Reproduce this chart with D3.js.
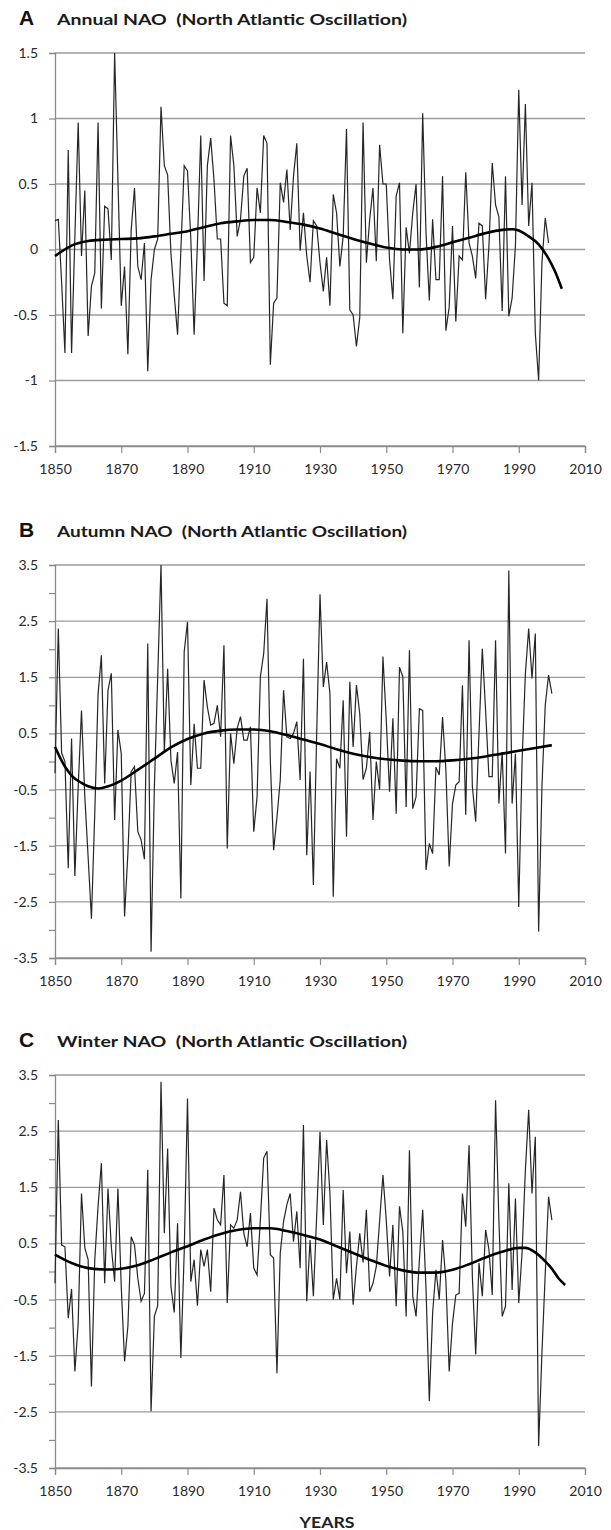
<!DOCTYPE html>
<html>
<head>
<meta charset="utf-8">
<script src="https://cdn.jsdelivr.net/npm/d3@7/dist/d3.min.js"></script>
<style>
  body { margin: 0; background: #fff; }
  svg { display: block; }
  text { font-family: Lato, "Liberation Sans", sans-serif; }
</style>
</head>
<body>
<div id="chart"></div>
<script>
// yearly NAO index values, first year 1850
var firstYear = 1850;

var annualNAO = [
  0.22, 0.23, -0.25, -0.79, 0.76, -0.79, 0.10, 0.97, -0.05, 0.45,
  -0.66, -0.28, -0.18, 0.97, -0.45, 0.33, 0.31, -0.08, 1.50, 0.53,
  -0.43, -0.13, -0.80, 0.15, 0.47, -0.13, -0.23, 0.05, -0.93, -0.23,
  0.00, 0.08, 1.09, 0.64, 0.57, -0.03, -0.35, -0.65, 0.00, 0.64,
  0.60, 0.08, -0.65, 0.05, 0.87, -0.24, 0.64, 0.85, 0.53, 0.08,
  0.08, -0.41, -0.43, 0.87, 0.64, 0.10, 0.23, 0.56, 0.62, -0.10,
  -0.06, 0.47, 0.28, 0.87, 0.81, -0.88, -0.41, -0.37, 0.51, 0.36,
  0.61, 0.15, 0.56, 0.81, -0.01, 0.28, -0.05, -0.25, 0.22, 0.18,
  -0.10, -0.32, -0.06, -0.43, 0.42, 0.28, -0.13, 0.10, 0.92, -0.46,
  -0.50, -0.74, -0.52, 0.97, -0.10, 0.23, 0.47, -0.09, 0.80, 0.50,
  0.50, -0.08, -0.38, 0.41, 0.51, -0.64, 0.17, -0.03, 0.28, 0.50,
  -0.29, 1.04, 0.13, -0.39, 0.23, -0.23, -0.23, 0.56, -0.62, -0.44,
  0.18, -0.55, -0.05, -0.08, 0.59, 0.05, -0.05, -0.22, 0.20, 0.18,
  -0.38, 0.03, 0.66, 0.34, 0.25, -0.47, 0.56, -0.51, -0.37, 0.03,
  1.22, 0.34, 1.11, 0.18, 0.51, -0.64, -1.00, -0.10, 0.24, 0.05
];

var autumnNAO = [
  -0.21, 2.37, 0.15, 0.00, -1.90, 0.41, -2.04, -0.45, 0.91, -0.63,
  -1.70, -2.80, -0.93, 1.20, 1.89, -0.39, 1.27, 1.57, -1.04, 0.56,
  0.14, -2.76, -1.64, -0.18, -0.09, -1.25, -1.40, -1.74, 2.10, -3.39,
  -0.45, 1.50, 3.50, 0.17, 1.65, 0.02, -0.39, 0.17, -2.44, 1.95,
  2.49, -0.42, 0.67, -0.12, -0.12, 1.45, 0.97, 0.65, 0.68, 1.00,
  0.44, 2.07, -1.55, 0.50, -0.04, 0.59, 0.80, 0.38, 0.38, 0.62,
  -1.25, -0.63, 1.51, 1.92, 2.90, 0.02, -1.58, -1.00, -0.33, 1.27,
  0.44, 0.41, 0.50, 0.71, -0.33, 1.83, -1.67, -0.18, -2.20, 0.50,
  2.98, 1.33, 1.77, 1.21, -2.41, 0.05, -0.12, 1.09, -1.34, 1.42,
  0.26, 1.36, 0.85, -0.32, -0.12, 0.53, -1.04, 0.00, -0.50, 1.87,
  0.74, -0.54, 0.77, -0.93, 1.68, 1.51, -0.81, 1.98, -0.84, -0.63,
  0.94, 0.91, -1.93, -1.46, -1.64, -0.10, -0.24, 0.79, -0.15, -1.87,
  -0.75, -0.42, -0.36, 1.36, -0.95, 2.16, -0.45, -1.07, 0.50, 2.01,
  0.90, -0.27, -0.27, 2.16, -0.75, 0.17, -1.64, 3.40, -0.75, 0.14,
  -2.59, 0.00, 1.57, 2.37, 1.48, 2.28, -3.03, -0.45, 1.00, 1.54,
  1.21
];

var winterNAO = [
  -0.21, 2.70, 0.47, 0.44, -0.83, -0.31, -1.78, -0.92, 1.39, 0.42,
  0.21, -2.05, 0.20, 1.16, 1.93, -0.21, 1.48, 0.44, -0.18, 1.48,
  -0.27, -1.60, -0.98, 0.62, 0.47, -0.12, -0.53, -0.39, 1.81, -2.49,
  -0.80, -0.61, 3.38, 0.68, 2.19, -0.27, -0.73, 0.86, -1.54, 0.33,
  3.08, -0.18, 0.21, -0.61, 0.39, 0.09, 0.39, -0.36, 1.13, 0.92,
  0.83, 1.72, -0.56, 0.83, 0.77, 0.92, 1.42, 0.68, 0.44, 1.04,
  0.06, -0.06, 0.92, 2.02, 2.14, 0.30, 0.24, -1.81, 0.33, 0.89,
  1.19, 1.39, 0.53, 1.07, 0.06, 2.61, -0.53, 0.56, -0.44, 1.00,
  2.49, 0.83, 2.34, 1.39, -0.50, -0.12, -0.50, 1.45, -0.03, 0.71,
  -0.59, 0.09, 0.68, 0.16, 1.10, -0.36, -0.21, 0.09, 0.90, 1.72,
  0.92, -0.09, 0.83, -0.62, 1.16, 0.71, -0.80, 2.16, -0.44, -0.80,
  0.20, 1.10, -0.30, -2.31, -0.74, 0.03, -0.50, 0.56, -0.15, -1.78,
  -0.92, -0.42, -0.39, 1.39, 0.80, 2.25, -0.10, -1.48, 0.15, -0.44,
  0.74, 0.39, -0.42, 3.05, 0.92, -0.80, -0.62, 1.57, -0.33, 1.30,
  -0.56, 0.33, 1.81, 2.88, 1.39, 2.40, -3.11, -1.45, -0.03, 1.33,
  0.92
];

// smoothed trend curves (thick line)
var annualTrendYears = [1850, 1855, 1860, 1865, 1870, 1875, 1880, 1885, 1890, 1895, 1900, 1905, 1910, 1915, 1920, 1925, 1930, 1935, 1940, 1945, 1950, 1955, 1960, 1965, 1970, 1975, 1980, 1985, 1988, 1990, 1993, 1996, 1999, 2001, 2003];
var annualTrend = [-0.05, 0.03, 0.065, 0.075, 0.08, 0.085, 0.10, 0.12, 0.14, 0.17, 0.20, 0.215, 0.225, 0.225, 0.21, 0.19, 0.16, 0.12, 0.08, 0.045, 0.015, 0.0, 0.0, 0.02, 0.055, 0.09, 0.125, 0.15, 0.155, 0.145, 0.10, 0.04, -0.07, -0.17, -0.30];

var autumnTrendYears = [1850, 1853, 1855, 1858, 1860, 1863, 1865, 1870, 1875, 1880, 1885, 1890, 1895, 1900, 1905, 1910, 1915, 1920, 1925, 1930, 1935, 1940, 1945, 1950, 1955, 1960, 1965, 1970, 1975, 1980, 1985, 1990, 1995, 2000];
var autumnTrend = [0.26, -0.09, -0.25, -0.38, -0.44, -0.48, -0.46, -0.34, -0.15, 0.05, 0.25, 0.40, 0.50, 0.55, 0.57, 0.57, 0.54, 0.47, 0.39, 0.31, 0.22, 0.14, 0.08, 0.04, 0.015, 0.005, 0.005, 0.02, 0.05, 0.09, 0.14, 0.19, 0.24, 0.29];

var winterTrendYears = [1850, 1855, 1860, 1865, 1870, 1875, 1880, 1885, 1890, 1895, 1900, 1905, 1910, 1915, 1920, 1925, 1930, 1935, 1940, 1945, 1950, 1955, 1960, 1965, 1970, 1975, 1980, 1985, 1990, 1992, 1995, 1998, 2000, 2002, 2004];
var winterTrend = [0.30, 0.15, 0.06, 0.035, 0.05, 0.11, 0.22, 0.34, 0.45, 0.57, 0.67, 0.74, 0.77, 0.77, 0.72, 0.65, 0.57, 0.45, 0.33, 0.21, 0.10, 0.02, -0.02, -0.02, 0.03, 0.13, 0.25, 0.35, 0.42, 0.42, 0.34, 0.18, 0.05, -0.12, -0.24];

var xTicks = [1850, 1870, 1890, 1910, 1930, 1950, 1970, 1990, 2010];
var yTicksA = [-1.5, -1, -0.5, 0, 0.5, 1, 1.5];
var yTicksBC = [-3.5, -3, -2.5, -2, -1.5, -1, -0.5, 0, 0.5, 1, 1.5, 2, 2.5, 3, 3.5];
var yGridBC = [-3.5, -2.5, -1.5, -0.5, 0.5, 1.5, 2.5, 3.5];

var panelLetters = ['A', 'B', 'C'];
var panelTitles = [
  'Annual NAO  (North Atlantic Oscillation)',
  'Autumn NAO  (North Atlantic Oscillation)',
  'Winter NAO  (North Atlantic Oscillation)'
];

var W = 611, H = 1530;
var svg = d3.select('#chart').append('svg')
  .attr('width', W)
  .attr('height', H);

var x = d3.scaleLinear().domain([1850, 2010]).range([55, 585]);

var panels = [
  { top: 53, bottom: 446, dom: [-1.5, 1.5], values: annualNAO, ticks: yTicksA, grid: yTicksA,
    tYears: annualTrendYears, trend: annualTrend },
  { top: 565, bottom: 958, dom: [-3.5, 3.5], values: autumnNAO, ticks: yTicksBC, grid: yGridBC,
    tYears: autumnTrendYears, trend: autumnTrend },
  { top: 1075, bottom: 1468, dom: [-3.5, 3.5], values: winterNAO, ticks: yTicksBC, grid: yGridBC,
    tYears: winterTrendYears, trend: winterTrend }
];

panels.forEach(function(p, i) {
  var y = d3.scaleLinear().domain(p.dom).range([p.bottom, p.top]);
  var g = svg.append('g');

  // title
  g.append('text')
    .attr('x', 19).attr('y', p.top - 28)
    .style('font-family', '"Liberation Sans", Arial, sans-serif')
    .style('font-weight', 'bold')
    .style('font-size', '21px')
    .attr('fill', '#111')
    .text(panelLetters[i]);
  g.append('text')
    .attr('x', 57).attr('y', p.top - 28)
    .style('font-weight', 'bold')
    .style('font-size', '16px')
    .style('white-space', 'pre')
    .attr('textLength', 350)
    .attr('lengthAdjust', 'spacingAndGlyphs')
    .attr('fill', '#1a1a1a')
    .text(panelTitles[i]);

  // gridlines
  g.selectAll('.grid')
    .data(p.grid)
    .enter().append('line')
    .attr('x1', x(1850)).attr('x2', x(2010))
    .attr('y1', function(d) { return y(d); })
    .attr('y2', function(d) { return y(d); })
    .attr('stroke', '#9c9c9c')
    .attr('stroke-width', 1.3);

  // y axis
  var yAxis = d3.axisLeft(y)
    .tickValues(p.ticks)
    .tickSize(6)
    .tickPadding(11)
    .tickFormat(function(d) { return p.grid.indexOf(d) >= 0 ? d3.format('')(d).replace('−', '-') : ''; });
  var ya = g.append('g')
    .attr('transform', 'translate(' + x(1850) + ',0)')
    .call(yAxis);
  ya.select('.domain').attr('stroke', '#8a8a8a').attr('stroke-width', 1.3);
  ya.selectAll('.tick line').attr('stroke', '#8a8a8a').attr('stroke-width', 1.2);
  ya.selectAll('.tick text')
    .style('font-family', 'Lato, sans-serif')
    .style('font-size', '14px')
    .attr('fill', '#2a2a2a');

  // x axis
  var xAxis = d3.axisBottom(x)
    .tickValues(xTicks)
    .tickSize(7)
    .tickPadding(11)
    .tickFormat(d3.format('d'));
  var xa = g.append('g')
    .attr('transform', 'translate(0,' + p.bottom + ')')
    .call(xAxis);
  xa.select('.domain').attr('stroke', '#8a8a8a').attr('stroke-width', 1.3);
  xa.selectAll('.tick line').attr('stroke', '#8a8a8a').attr('stroke-width', 1.2);
  xa.selectAll('.tick text')
    .style('font-family', 'Lato, sans-serif')
    .style('font-size', '14px')
    .attr('fill', '#2a2a2a');

  // yearly series
  var line = d3.line()
    .x(function(d, k) { return x(firstYear + k); })
    .y(function(d) { return y(d); });
  g.append('path')
    .datum(p.values)
    .attr('d', line)
    .attr('fill', 'none')
    .attr('stroke', '#262626')
    .attr('stroke-width', 1.2);

  // trend
  var trendLine = d3.line()
    .curve(d3.curveMonotoneX)
    .x(function(d, k) { return x(p.tYears[k]); })
    .y(function(d) { return y(d); });
  g.append('path')
    .datum(p.trend)
    .attr('d', trendLine)
    .attr('fill', 'none')
    .attr('stroke', '#000')
    .attr('stroke-width', 2.6);
});

svg.append('text')
  .attr('x', 327).attr('y', 1528)
  .attr('text-anchor', 'middle')
  .style('font-weight', 'bold')
  .style('font-size', '16px')
  .attr('textLength', 55)
  .attr('lengthAdjust', 'spacingAndGlyphs')
  .attr('fill', '#222')
  .text('YEARS');
</script>
</body>
</html>
